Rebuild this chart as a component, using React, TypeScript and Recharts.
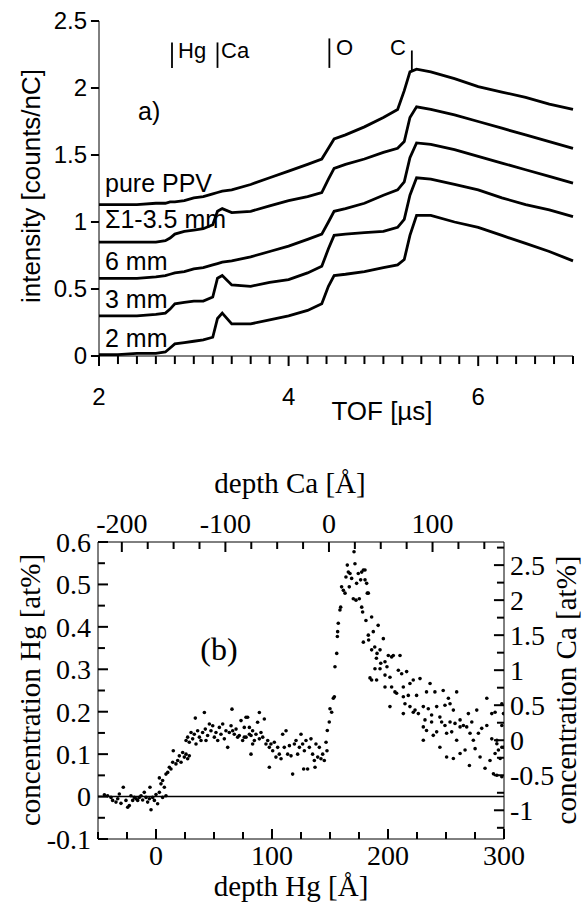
import { LineChart, Line, XAxis, YAxis, ReferenceLine, ScatterChart, Scatter } from "recharts";

// ---- panel (a): TOF spectra ----
const tof = [2.0, 2.2, 2.4, 2.6, 2.7, 2.75, 2.8, 2.9, 3.0, 3.1, 3.2, 3.25, 3.3, 3.4, 3.6, 3.8, 4.0, 4.2, 4.35, 4.42, 4.48, 4.6, 4.8, 5.0, 5.15, 5.22, 5.28, 5.35, 5.5, 5.75, 6.0, 6.25, 6.5, 6.75, 7.0];

const purePPV = [1.13, 1.13, 1.13, 1.14, 1.14, 1.15, 1.15, 1.16, 1.18, 1.19, 1.21, 1.22, 1.23, 1.24, 1.28, 1.33, 1.38, 1.43, 1.47, 1.55, 1.62, 1.65, 1.71, 1.78, 1.84, 1.98, 2.12, 2.14, 2.12, 2.07, 2.01, 1.97, 1.93, 1.88, 1.84];
const sum135 = [0.85, 0.85, 0.85, 0.85, 0.86, 0.88, 0.91, 0.93, 0.94, 0.95, 0.98, 1.08, 1.1, 1.07, 1.08, 1.12, 1.16, 1.19, 1.22, 1.32, 1.4, 1.43, 1.47, 1.52, 1.55, 1.6, 1.78, 1.86, 1.84, 1.8, 1.75, 1.7, 1.65, 1.6, 1.55];
const mm6 = [0.58, 0.58, 0.58, 0.59, 0.6, 0.61, 0.62, 0.63, 0.65, 0.66, 0.68, 0.69, 0.7, 0.71, 0.74, 0.78, 0.82, 0.87, 0.91, 1.0, 1.08, 1.1, 1.14, 1.2, 1.24, 1.3, 1.48, 1.59, 1.58, 1.54, 1.49, 1.44, 1.39, 1.34, 1.29];
const mm3 = [0.3, 0.3, 0.3, 0.31, 0.32, 0.35, 0.39, 0.4, 0.41, 0.41, 0.44, 0.58, 0.6, 0.53, 0.52, 0.55, 0.57, 0.62, 0.67, 0.8, 0.9, 0.91, 0.92, 0.93, 0.96, 1.02, 1.2, 1.33, 1.32, 1.28, 1.24, 1.18, 1.13, 1.09, 1.04];
const mm2 = [0.01, 0.01, 0.02, 0.02, 0.03, 0.06, 0.09, 0.1, 0.11, 0.12, 0.14, 0.28, 0.32, 0.24, 0.24, 0.27, 0.3, 0.34, 0.39, 0.52, 0.6, 0.61, 0.63, 0.66, 0.68, 0.72, 0.9, 1.05, 1.05, 1.0, 0.96, 0.9, 0.84, 0.78, 0.71];

const tofTicks = [2, 2.2, 2.4, 2.6, 2.8, 3, 3.2, 3.4, 3.6, 3.8, 4, 4.2, 4.4, 4.6, 4.8, 5, 5.2, 5.4, 5.6, 5.8, 6, 6.2, 6.4, 6.6, 6.8, 7];
const tofLabels = [2, 4, 6];
const intensityTicks = [0, 0.5, 1, 1.5, 2, 2.5];

// element edge markers: position [µs], bottom, top [counts/nC]
const edgeMarks = [
  { t: 2.77, y0: 2.15, y1: 2.34 },
  { t: 3.25, y0: 2.15, y1: 2.34 },
  { t: 4.43, y0: 2.15, y1: 2.37 },
  { t: 5.3, y0: 2.12, y1: 2.28 },
];

const spectra = tof.map((t, i) => ({
  t,
  pure: purePPV[i],
  sum: sum135[i],
  mm6: mm6[i],
  mm3: mm3[i],
  mm2: mm2[i],
}));

// ---- panel (b): depth profiles ----
// [depth Hg (Å), concentration Hg (at%)]
const hgPoints = [
  [-44.5, 0.004], [-41.7, 0.002], [-38.8, -0.002], [-37.4, -0.009], [-34.5, -0.013], [-33.0, -0.005], [-31.6, 0.006],
  [-30.2, -0.016], [-28.2, 0.022], [-25.9, -0.009], [-24.4, -0.025], [-23.0, -0.021], [-21.6, 0.002], [-20.1, -0.009],
  [-18.7, -0.002], [-17.2, -0.005], [-15.8, -0.009], [-14.4, -0.002], [-12.9, 0.002], [-11.5, -0.008], [-10.1, 0.01],
  [-8.6, -0.002], [-7.2, -0.013], [-5.7, -0.005], [-5.2, 0.022], [-4.3, -0.031], [-2.9, -0.002], [-1.4, -0.009],
  [0.0, 0.005], [1.4, -0.017], [2.9, 0.01], [4.3, 0.03], [5.7, -0.002], [7.2, 0.022], [8.6, 0.002],
  [2.9, 0.044], [5.7, 0.038], [8.6, 0.053], [10.1, 0.057], [11.5, 0.069], [12.9, 0.065], [14.4, 0.081], [14.9, 0.108],
  [17.2, 0.077], [18.7, 0.085], [20.1, 0.096], [21.6, 0.081], [23.0, 0.104], [24.4, 0.093], [25.9, 0.1], [27.3, 0.089],
  [28.7, 0.096], [25.9, 0.132], [27.3, 0.14], [28.7, 0.128], [30.2, 0.151], [31.6, 0.136], [33.0, 0.147], [33.9, 0.185],
  [34.5, 0.124], [35.9, 0.155], [37.4, 0.14], [38.8, 0.132], [40.2, 0.151], [41.7, 0.198], [42.5, 0.159], [43.1, 0.132],
  [44.5, 0.144], [46.0, 0.171], [47.4, 0.155], [48.9, 0.167], [50.3, 0.14], [51.7, 0.151], [53.2, 0.132], [54.6, 0.163],
  [56.0, 0.147], [57.5, 0.171], [58.9, 0.136], [60.3, 0.155], [61.8, 0.116], [63.2, 0.151], [64.7, 0.167], [65.5, 0.206],
  [66.1, 0.155], [67.5, 0.147], [69.0, 0.159], [70.4, 0.14], [71.8, 0.144], [73.3, 0.179], [74.7, 0.132], [76.1, 0.163],
  [77.6, 0.14], [79.0, 0.187], [80.5, 0.147], [81.9, 0.1], [83.3, 0.155], [84.8, 0.132],
  [76.1, 0.14], [77.6, 0.187], [80.5, 0.163], [81.9, 0.144], [83.3, 0.124], [86.2, 0.147], [87.6, 0.175], [89.1, 0.198],
  [89.1, 0.136], [90.5, 0.151], [92.0, 0.14], [93.4, 0.183], [94.8, 0.124], [96.3, 0.132], [97.7, 0.116], [97.7, 0.069],
  [99.1, 0.124], [100.6, 0.108], [102.0, 0.128], [103.4, 0.093], [104.9, 0.116], [106.3, 0.1], [107.8, 0.089], [109.2, 0.147],
  [110.6, 0.116], [112.1, 0.155], [113.5, 0.1], [115.0, 0.12], [116.4, 0.096], [117.8, 0.053], [119.3, 0.124], [120.7, 0.132],
  [122.1, 0.1], [123.6, 0.116], [125.0, 0.147], [126.4, 0.124], [127.3, 0.065], [127.9, 0.108], [129.3, 0.132], [130.7, 0.065],
  [132.2, 0.116], [133.6, 0.136], [135.0, 0.1], [136.5, 0.085], [137.1, 0.069], [137.9, 0.124], [139.4, 0.093], [140.8, 0.116],
  [142.2, 0.089], [143.7, 0.1], [145.1, 0.085], [146.6, 0.128], [147.4, 0.108],
];

// [depth Ca (Å), concentration Ca (at%)]
const caPoints = [
  [-1.6, 0.14], [0.3, 0.26], [1.0, 0.45], [2.6, 0.4], [4.2, 0.6], [5.2, 0.62], [5.8, 1.05], [7.5, 1.24], [8.1, 1.48],
  [8.4, 1.55], [9.0, 1.67], [10.6, 1.86], [11.3, 1.9], [12.2, 2.19], [13.9, 2.14], [15.5, 2.1], [16.4, 2.33], [17.7, 2.5],
  [18.7, 2.4], [19.6, 2.19], [20.3, 2.38], [21.9, 2.31], [23.5, 2.02], [24.2, 2.69], [25.1, 2.52], [26.1, 2.0], [26.7, 2.24],
  [28.3, 2.38], [29.3, 2.02], [30.6, 2.29], [31.6, 1.9], [33.2, 2.43], [34.8, 2.29], [35.7, 1.71], [37.0, 2.1], [38.0, 1.5],
  [38.3, 1.43], [31.6, 2.4], [34.8, 2.43], [36.4, 2.24], [38.0, 2.1], [32.5, 1.83], [41.2, 1.76], [42.8, 1.55], [47.5, 1.64],
  [33.2, 1.4], [41.2, 1.29], [44.2, 1.33], [45.8, 1.17], [49.3, 1.29], [52.5, 1.45], [54.1, 1.12], [57.3, 1.21], [60.5, 1.19],
  [62.1, 1.21], [68.6, 1.21], [44.4, 1.02], [49.3, 1.02], [41.2, 0.86], [46.0, 0.86], [54.1, 0.93], [58.9, 0.9], [67.0, 1.0],
  [70.2, 0.95], [75.0, 0.98], [54.1, 0.76], [60.5, 0.76], [63.7, 0.69], [71.8, 0.76], [78.2, 0.81], [81.4, 0.86], [87.9, 0.88],
  [97.6, 0.81], [65.3, 0.67], [71.8, 0.62], [76.6, 0.64], [84.6, 0.64], [94.2, 0.69], [102.3, 0.69], [110.3, 0.71], [58.9, 0.48],
  [73.4, 0.52], [78.2, 0.48], [83.1, 0.43], [91.1, 0.48], [95.9, 0.45], [104.0, 0.48], [115.3, 0.6], [123.3, 0.69], [71.8, 0.38],
  [81.4, 0.4], [86.3, 0.38], [92.7, 0.29], [99.1, 0.36], [107.1, 0.33], [116.9, 0.52], [112.0, 0.5], [120.1, 0.43], [91.1, 0.0],
  [94.2, 0.14], [99.1, 0.26], [104.0, 0.12], [108.8, 0.26], [112.0, 0.21], [116.9, 0.26], [121.7, 0.24], [126.6, 0.29],
  [129.8, 0.21], [134.6, 0.38], [137.9, 0.26], [142.7, 0.43], [152.4, 0.6], [157.2, 0.38], [160.4, 0.4], [166.9, 0.52],
  [100.7, 0.07], [107.1, -0.1], [113.6, 0.1], [118.5, 0.12], [123.3, 0.0], [126.6, 0.19], [133.0, 0.19], [136.2, 0.1],
  [139.4, 0.0], [144.3, 0.1], [147.5, 0.17], [152.4, 0.21], [157.2, 0.02], [162.1, -0.05], [166.9, -0.1], [113.6, -0.24],
  [120.1, -0.26], [126.6, -0.19], [131.4, -0.14], [135.6, -0.36], [141.1, -0.12], [145.9, -0.24], [150.7, -0.4], [155.5, -0.29],
  [160.4, -0.19], [163.6, -0.14], [158.8, -0.48], [162.1, -0.5], [166.9, -0.52], [165.3, -0.26], [168.5, -0.1], [168.5, 0.38],
  [166.9, 0.21], [162.1, 0.0], [91.1, 0.19], [39.6, 0.89], [46.4, 1.24], [50.0, 1.1], [56.0, 1.05],
];

const hgTicks = [-50, -25, 0, 25, 50, 75, 100, 125, 150, 175, 200, 225, 250, 275, 300];
const caDepthTicks = [-200, -175, -150, -125, -100, -75, -50, -25, 0, 25, 50, 75, 100, 125, 150];
const hgConcTicks = [-0.1, -0.05, 0, 0.05, 0.1, 0.15, 0.2, 0.25, 0.3, 0.35, 0.4, 0.45, 0.5, 0.55, 0.6];
const caConcTicks = [-1.25, -1, -0.75, -0.5, -0.25, 0, 0.25, 0.5, 0.75, 1, 1.25, 1.5, 1.75, 2, 2.25, 2.5, 2.75];

const hgData = hgPoints.map(([x, y]) => ({ x, y }));
const caData = caPoints.map(([x, y]) => ({ x, y }));

const SANS = "Liberation Sans, Arial, sans-serif";
const SERIF = "Liberation Serif, Times New Roman, serif";

const dot = (p: any) => <circle cx={p.cx} cy={p.cy} r={1.8} fill="#000" />;

const seriesKeys = ["pure", "sum", "mm6", "mm3", "mm2"];

type Side = "bottom" | "top" | "left" | "right";

// tick labels only; the tick marks are drawn as reference segments below
const makeLabel =
  (side: Side, gap: number, font: string, size: number, label: (v: number) => string) =>
  (props: any) => {
    const { x, y, payload } = props;
    const text = label(payload.value);
    if (!text) return <g />;
    if (side === "bottom")
      return <text x={x} y={y + gap} dy="0.72em" textAnchor="middle" fontSize={size} fontFamily={font} fill="#000">{text}</text>;
    if (side === "top")
      return <text x={x} y={y - gap} textAnchor="middle" fontSize={size} fontFamily={font} fill="#000">{text}</text>;
    if (side === "left")
      return <text x={x - gap} y={y} dy="0.35em" textAnchor="end" fontSize={size} fontFamily={font} fill="#000">{text}</text>;
    return <text x={x + gap} y={y} dy="0.35em" textAnchor="start" fontSize={size} fontFamily={font} fill="#000">{text}</text>;
  };

const hgMajor = (v: number) => v % 100 === 0;
const hgConcMajor = (v: number) => Math.round(v * 100) % 10 === 0;
const caConcMajor = (v: number) => Math.round(v * 100) % 50 === 0;

const tofLabel = makeLabel("bottom", 32, SANS, 24, (v) => (tofLabels.includes(v) ? String(v) : ""));
const intensityLabel = makeLabel("left", 12, SANS, 24, (v) => String(v));
const hgLabel = makeLabel("bottom", 6, SERIF, 28, (v) => (hgMajor(v) ? String(v) : ""));
const caDepthLabel = makeLabel("top", 9, SERIF, 28, (v) => (hgMajor(v) ? String(v) : ""));
const hgConcLabel = makeLabel("left", 7, SERIF, 28, (v) => (hgConcMajor(v) ? String(Math.round(v * 10) / 10) : ""));
const caConcLabel = makeLabel("right", 6, SERIF, 28, (v) => (caConcMajor(v) ? String(v) : ""));

const tickStroke = { stroke: "#000", strokeWidth: 2, ifOverflow: "visible" as const };

export default function App() {
  return (
    <div style={{ position: "absolute", left: 0, top: 0, width: 582, height: 902, background: "#fff" }}>
      <div style={{ position: "absolute", left: 0, top: 0 }}>
        <LineChart width={582} height={440} data={spectra} margin={{ top: 21, right: 9, bottom: 34, left: 39 }}>
          <XAxis
            dataKey="t"
            type="number"
            domain={[2, 7]}
            ticks={tofTicks}
            interval={0}
            height={50}
            stroke="#000"
            tickSize={0}
            tickMargin={0}
            tickLine={false}
            tick={tofLabel}
          />
          <YAxis
            type="number"
            domain={[0, 2.5]}
            ticks={intensityTicks}
            interval={0}
            width={60}
            stroke="#000"
            tickSize={0}
            tickMargin={0}
            tickLine={false}
            tick={intensityLabel}
          />
          {tofTicks.map((t) => (
            <ReferenceLine
              key={`tx${t}`}
              segment={[{ x: t, y: 0 }, { x: t, y: tofLabels.includes(t) ? -0.075 : -0.06 }]}
              {...tickStroke}
            />
          ))}
          {intensityTicks.map((v) => (
            <ReferenceLine key={`ty${v}`} segment={[{ x: 2, y: v }, { x: 1.915, y: v }]} {...tickStroke} />
          ))}
          {seriesKeys.map((k) => (
            <Line
              key={k}
              dataKey={k}
              type="linear"
              stroke="#000"
              strokeWidth={2.8}
              dot={false}
              isAnimationActive={false}
            />
          ))}
          {edgeMarks.map((m, i) => (
            <ReferenceLine
              key={i}
              segment={[{ x: m.t, y: m.y0 }, { x: m.t, y: m.y1 }]}
              stroke="#000"
              strokeWidth={1.8}
            />
          ))}
        </LineChart>
      </div>

      <div style={{ position: "absolute", left: 0, top: 440 }}>
        <ScatterChart width={582} height={462} margin={{ top: 62, right: 18, bottom: 23, left: 38 }}>
          <XAxis
            xAxisId="hg"
            dataKey="x"
            type="number"
            orientation="bottom"
            domain={[-50, 300]}
            allowDataOverflow
            ticks={hgTicks}
            interval={0}
            height={40}
            stroke="#000"
            tickSize={0}
            tickMargin={0}
            tickLine={false}
            tick={hgLabel}
          />
          <XAxis
            xAxisId="ca"
            dataKey="x"
            type="number"
            orientation="top"
            domain={[-223, 169]}
            allowDataOverflow
            ticks={caDepthTicks}
            interval={0}
            height={40}
            stroke="#000"
            tickSize={0}
            tickMargin={0}
            tickLine={false}
            tick={caDepthLabel}
          />
          <YAxis
            yAxisId="hg"
            dataKey="y"
            type="number"
            orientation="left"
            domain={[-0.1, 0.6]}
            allowDataOverflow
            ticks={hgConcTicks}
            interval={0}
            width={60}
            stroke="#000"
            tickSize={0}
            tickMargin={0}
            tickLine={false}
            tick={hgConcLabel}
          />
          <YAxis
            yAxisId="ca"
            dataKey="y"
            type="number"
            orientation="right"
            domain={[-1.41, 2.83]}
            allowDataOverflow
            ticks={caConcTicks}
            interval={0}
            width={60}
            stroke="#000"
            tickSize={0}
            tickMargin={0}
            tickLine={false}
            tick={caConcLabel}
          />
          <ReferenceLine xAxisId="hg" yAxisId="hg" y={0} stroke="#000" strokeWidth={1.5} />
          {hgTicks.map((v) => (
            <ReferenceLine
              key={`bx${v}`}
              xAxisId="hg"
              yAxisId="hg"
              segment={[{ x: v, y: -0.1 }, { x: v, y: hgMajor(v) ? -0.0765 : -0.0835 }]}
              {...tickStroke}
            />
          ))}
          {caDepthTicks.map((v) => (
            <ReferenceLine
              key={`tx${v}`}
              xAxisId="ca"
              yAxisId="ca"
              segment={[{ x: v, y: 2.83 }, { x: v, y: hgMajor(v) ? 2.687 : 2.73 }]}
              {...tickStroke}
            />
          ))}
          {hgConcTicks.map((v) => (
            <ReferenceLine
              key={`ly${v}`}
              xAxisId="hg"
              yAxisId="hg"
              segment={[{ x: -50, y: v }, { x: hgConcMajor(v) ? -41.4 : -44, y: v }]}
              {...tickStroke}
            />
          ))}
          {caConcTicks.map((v) => (
            <ReferenceLine
              key={`ry${v}`}
              xAxisId="ca"
              yAxisId="ca"
              segment={[{ x: 169, y: v }, { x: caConcMajor(v) ? 159.3 : 162.2, y: v }]}
              {...tickStroke}
            />
          ))}
          <Scatter xAxisId="hg" yAxisId="hg" data={hgData} shape={dot} isAnimationActive={false} />
          <Scatter xAxisId="ca" yAxisId="ca" data={caData} shape={dot} isAnimationActive={false} />
        </ScatterChart>
      </div>

      <svg width={582} height={902} style={{ position: "absolute", left: 0, top: 0, pointerEvents: "none" }}>
        <g fontFamily={SANS} fill="#000">
          <text x={178} y={58} fontSize={22}>Hg</text>
          <text x={221} y={58} fontSize={22}>Ca</text>
          <text x={336} y={55} fontSize={22}>O</text>
          <text x={390} y={55} fontSize={22}>C</text>
          <text x={138} y={120} fontSize={25}>a)</text>
          <text x={105} y={192} fontSize={25}>pure PPV</text>
          <text x={105} y={228} fontSize={25}>Σ1-3.5 mm</text>
          <text x={105} y={270} fontSize={25}>6 mm</text>
          <text x={105} y={308} fontSize={25}>3 mm</text>
          <text x={105} y={347} fontSize={25}>2 mm</text>
          <text x={382} y={420} fontSize={26} textAnchor="middle">TOF [µs]</text>
          <text transform="translate(40,186) rotate(-90)" fontSize={26} textAnchor="middle">intensity [counts/nC]</text>
        </g>
        <g fontFamily={SERIF} fill="#000">
          <text x={290} y={493} fontSize={29} textAnchor="middle">depth Ca [Å]</text>
          <text x={291} y={896} fontSize={29} textAnchor="middle">depth Hg [Å]</text>
          <text x={219} y={660} fontSize={32} textAnchor="middle">(b)</text>
          <text transform="translate(40,690) rotate(-90)" fontSize={29} textAnchor="middle">concentration Hg [at%]</text>
          <text transform="translate(576,690) rotate(-90)" fontSize={29} textAnchor="middle">concentration Ca [at%]</text>
        </g>
      </svg>
    </div>
  );
}
